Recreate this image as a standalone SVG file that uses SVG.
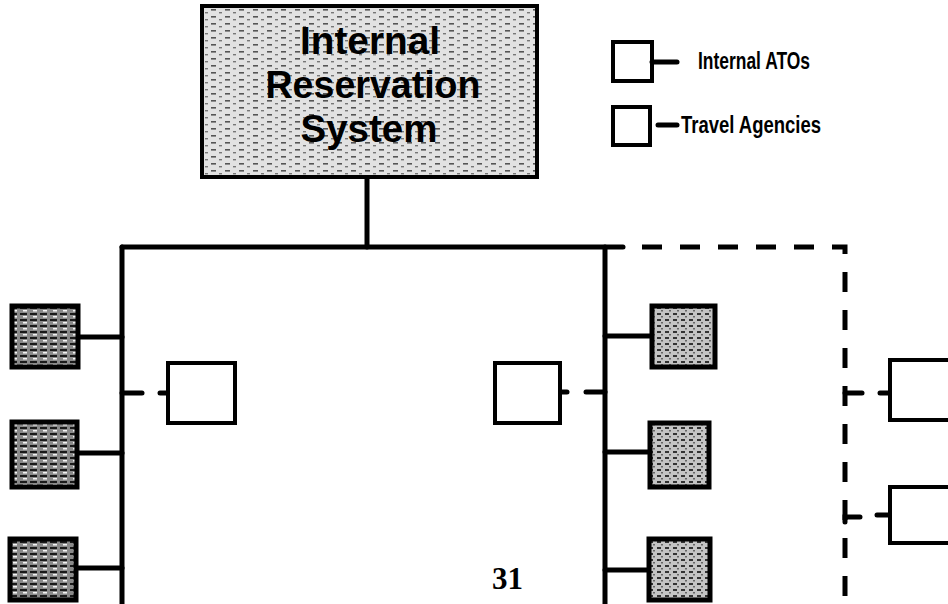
<svg xmlns="http://www.w3.org/2000/svg" width="948" height="604" viewBox="0 0 948 604">
<defs>
<pattern id="pMain" width="14" height="7" patternUnits="userSpaceOnUse">
<rect width="14" height="7" fill="#e2e2e2"/>
<rect x="1" y="2" width="5" height="1.6" fill="#555"/>
<rect x="9" y="5" width="3" height="1.4" fill="#777"/>
</pattern>
<pattern id="pDark" width="10" height="6" patternUnits="userSpaceOnUse">
<rect width="10" height="6" fill="#8a8a8a"/>
<rect x="0" y="1" width="7" height="2" fill="#1a1a1a"/>
<rect x="3" y="4" width="4" height="1.5" fill="#f4f4f4"/>
</pattern>
<pattern id="pMid" width="8" height="6" patternUnits="userSpaceOnUse">
<rect width="8" height="6" fill="#c4c4c4"/>
<rect x="1" y="1" width="4" height="2" fill="#333"/>
<rect x="5" y="4" width="2" height="1.5" fill="#666"/>
</pattern>
</defs>
<style>
.line{stroke:#000;stroke-width:5;fill:none;stroke-linecap:round}
.dash{stroke:#000;stroke-width:5;fill:none;stroke-dasharray:20 18}
.box{stroke:#000;stroke-width:4;fill:#fff}
.ato-l{stroke:#000;stroke-width:5;fill:url(#pDark)}
.ato-r{stroke:#000;stroke-width:5;fill:url(#pMid)}
.title{font-family:"Liberation Sans",Arial,sans-serif;font-weight:bold;font-size:39px;fill:#000;text-anchor:middle}
.leg{font-family:"Liberation Sans",Arial,sans-serif;font-weight:bold;font-size:23px;fill:#000}
.num{font-family:"Liberation Serif","Times New Roman",serif;font-weight:bold;font-size:31px;fill:#000}
</style>
<rect width="948" height="604" fill="#fff"/>

<g id="connectors">
<path class="line" d="M367,177 V247"/>
<path class="line" d="M122,247 H623"/>
<path class="line" d="M122,247 V604"/>
<path class="line" d="M605,247 V604"/>
<path class="dash" d="M642,247 H845 V604"/>
<path class="line" d="M78,337 H122"/>
<path class="line" d="M78,453 H122"/>
<path class="line" d="M77,568 H122"/>
<path class="line" d="M652,336 H605"/>
<path class="line" d="M650,452 H605"/>
<path class="line" d="M648,570 H605"/>
<path class="line" d="M122,393 H142"/>
<path class="line" d="M160,393 H168"/>
<path class="line" d="M560,392 H567"/>
<path class="line" d="M586,392 H605"/>
<path class="line" d="M845,393 H862"/>
<path class="line" d="M880,393 H890"/>
<path class="line" d="M845,522 V517 H860"/>
<path class="line" d="M877,515 H890"/>
</g>

<g id="main-system">
<rect x="202" y="6" width="335" height="171" fill="url(#pMain)" stroke="#000" stroke-width="4"/>
<text class="title" x="370" y="54" textLength="140" lengthAdjust="spacingAndGlyphs">Internal</text>
<text class="title" x="373" y="98" textLength="215" lengthAdjust="spacingAndGlyphs">Reservation</text>
<text class="title" x="369" y="142" textLength="137" lengthAdjust="spacingAndGlyphs">System</text>
</g>

<g id="legend-ato">
<rect class="box" x="613" y="42" width="39" height="39"/>
<path class="line" d="M652,62 H677"/>
<text class="leg" x="698" y="69" textLength="112" lengthAdjust="spacingAndGlyphs">Internal ATOs</text>
</g>
<g id="legend-agency">
<rect class="box" x="613" y="107" width="37" height="38"/>
<path class="line" d="M658,125 H677"/>
<text class="leg" x="681" y="133" textLength="140" lengthAdjust="spacingAndGlyphs">Travel Agencies</text>
</g>

<g id="ato-left-1"><rect class="ato-l" x="12" y="306" width="66" height="61"/></g>
<g id="ato-left-2"><rect class="ato-l" x="12" y="422" width="65" height="65"/></g>
<g id="ato-left-3"><rect class="ato-l" x="10" y="539" width="66" height="61"/></g>

<g id="ato-right-1"><rect class="ato-r" x="652" y="306" width="63" height="61"/></g>
<g id="ato-right-2"><rect class="ato-r" x="650" y="423" width="59" height="64"/></g>
<g id="ato-right-3"><rect class="ato-r" x="649" y="539" width="61" height="61"/></g>

<g id="agency-left"><rect class="box" x="168" y="363" width="67" height="60"/></g>
<g id="agency-right"><rect class="box" x="495" y="363" width="65" height="60"/></g>
<g id="agency-far-1"><rect class="box" x="890" y="360" width="70" height="60"/></g>
<g id="agency-far-2"><rect class="box" x="890" y="487" width="70" height="56"/></g>

<text class="num" x="492" y="589" textLength="31" lengthAdjust="spacingAndGlyphs">31</text>
</svg>
